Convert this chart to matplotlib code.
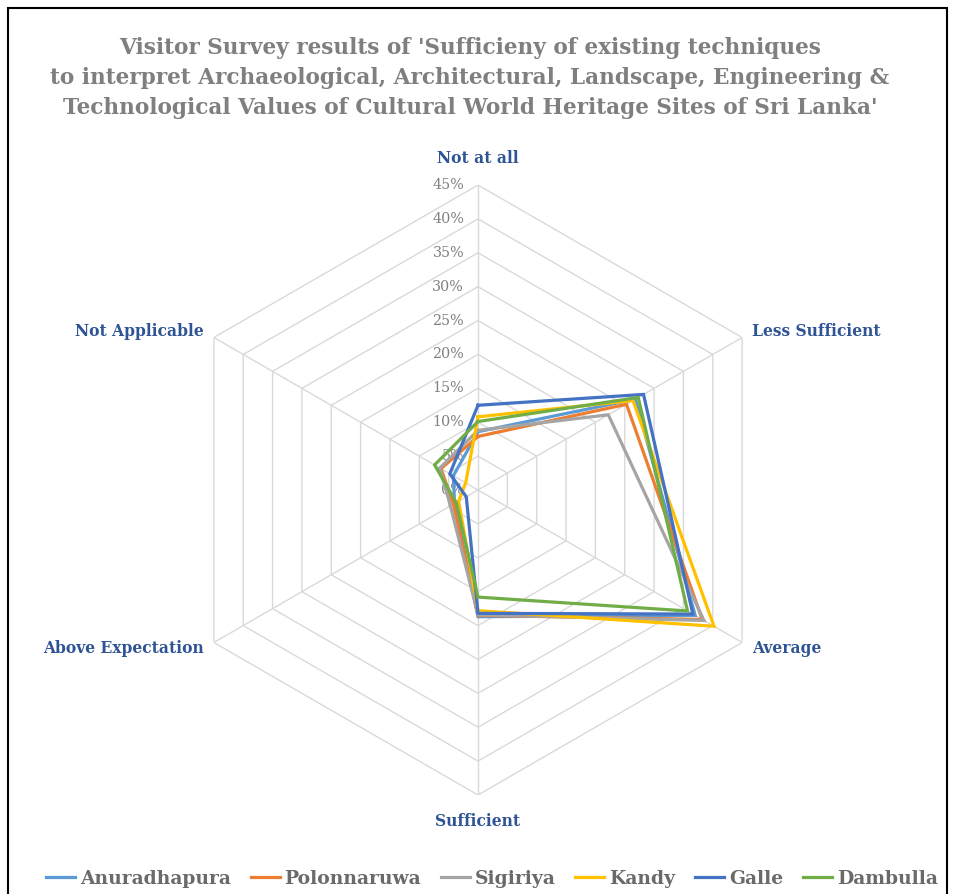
import numpy as np
import matplotlib
matplotlib.use("Agg")
import matplotlib.pyplot as plt
from matplotlib.patches import Rectangle

categories = ["Not at all", "Less Sufficient", "Average", "Sufficient",
              "Above Expectation", "Not Applicable"]
anuradhapura = [8.6, 26.8, 37.0, 18.7, 4.0, 4.2]
polonnaruwa = [7.9, 25.3, 38.2, 18.5, 4.2, 6.3]
sigiriya = [8.8, 22.2, 38.5, 18.4, 4.7, 6.5]
kandy = [10.8, 26.4, 40.2, 17.8, 3.3, 2.1]
galle = [12.5, 28.2, 36.6, 18.2, 2.0, 4.8]
dambulla = [10.1, 27.3, 35.7, 15.8, 3.7, 7.4]
series_names = ["Anuradhapura", "Polonnaruwa", "Sigiriya", "Kandy", "Galle", "Dambulla"]
series_values = [anuradhapura, polonnaruwa, sigiriya, kandy, galle, dambulla]
colors = ["#5B9BD5", "#ED7D31", "#A5A5A5", "#FFC000", "#4472C4", "#70AD47"]
rticks = [0, 5, 10, 15, 20, 25, 30, 35, 40, 45]

W, H = 955, 894
fig = plt.figure(figsize=(W / 100, H / 100), dpi=100)
cx, cy, R = 478, 490, 305
ax = fig.add_axes([(cx - R) / W, (H - cy - R) / H, 2 * R / W, 2 * R / H], projection="polar")
ax.set_theta_offset(np.pi / 2)
ax.set_theta_direction(-1)
ax.set_ylim(0, 45)
ax.grid(False)
ax.spines["polar"].set_visible(False)
ax.set_xticks([])
ax.set_yticks([])
ax.patch.set_alpha(0)

n = len(categories)
theta = np.linspace(0, 2 * np.pi, n, endpoint=False)
theta_c = np.append(theta, theta[0])

grid_color = "#D9D9D9"
for r in rticks[1:]:
    ax.plot(theta_c, [r] * (n + 1), color=grid_color, lw=1.0, zorder=1)
for t in theta:
    ax.plot([t, t], [0, 45], color=grid_color, lw=1.0, zorder=1)

serif = ["DejaVu Serif"]
for r in rticks:
    ax.annotate(f"{r}%", xy=(0, r), xytext=(-10, 0), textcoords="offset points",
                ha="right", va="center", fontsize=10.3, color="#808080",
                family=serif, zorder=2)

for name, vals, c in zip(series_names, series_values, colors):
    ax.plot(theta_c, vals + [vals[0]], color=c, lw=2.3, label=name, zorder=3,
            solid_joinstyle="miter")

label_color = "#2F5496"
aligns = ["center", "left", "left", "center", "right", "right"]
for t, lab, ha in zip(theta, categories, aligns):
    rr = 48.9 if ha == "center" else 46.7
    ax.text(t, rr, lab, ha=ha, va="center", fontsize=11.2, fontweight="bold",
            color=label_color, family=serif)

fig.text(0.492, 1 - 37 / H,
         "Visitor Survey results of 'Sufficieny of existing techniques\n"
         "to interpret Archaeological, Architectural, Landscape, Engineering &\n"
         "Technological Values of Cultural World Heritage Sites of Sri Lanka'",
         ha="center", va="top", fontsize=15.6, fontweight="bold", color="#7F7F7F",
         family=serif, linespacing=1.48, multialignment="center")

leg = fig.legend(loc="center", bbox_to_anchor=(0.515, 1 - 879 / H), ncol=6,
                 frameon=False, handlelength=1.55, handletextpad=0.26,
                 columnspacing=1.05, prop={"family": serif, "size": 13.5, "weight": "bold"})
for t in leg.get_texts():
    t.set_color("#6A6A6A")

fig.patches.append(Rectangle((8 / W, -0.1), (947 - 8) / W, 1.1 - 8 / H,
                             transform=fig.transFigure, fill=False,
                             edgecolor="black", lw=1.5))

fig.savefig("out.png", dpi=100)
